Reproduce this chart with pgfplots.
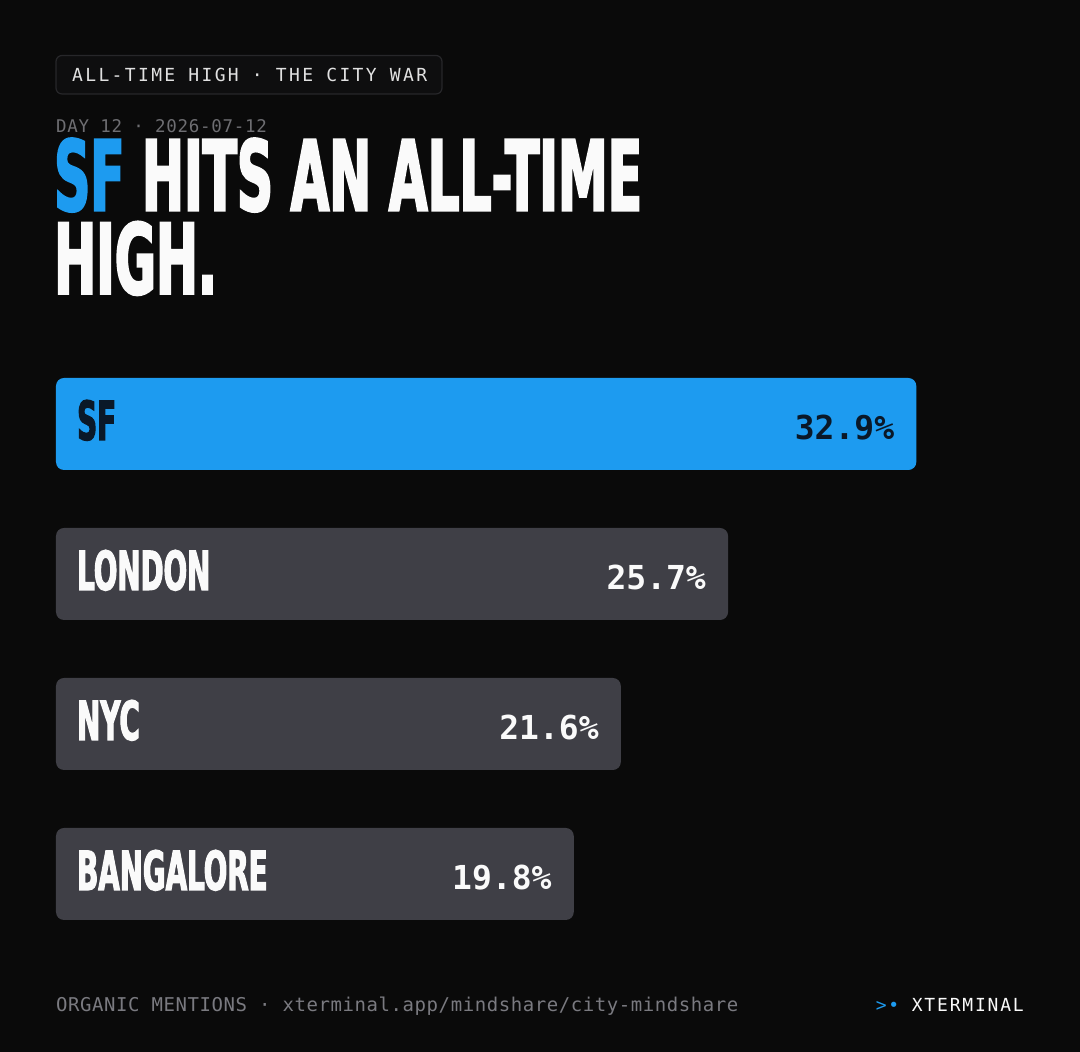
\documentclass[border=0pt]{standalone}
\usepackage{pgfplots}
\pgfplotsset{compat=1.18}
\usepackage{fontspec}
\setmainfont{DejaVu Sans}
\newfontfamily\monof{DejaVu Sans Mono}
\newfontfamily\hdrf{DejaVu Sans Mono}[LetterSpace=13]
\newfontfamily\dayf{DejaVu Sans Mono}[LetterSpace=4]
\newfontfamily\footf{DejaVu Sans Mono}[LetterSpace=3]
\newfontfamily\brandf{DejaVu Sans Mono}[LetterSpace=10]
\newfontfamily\headf{DejaVu Sans}[FakeStretch=0.513,FakeBold=2]
\definecolor{bg}{HTML}{0A0A0A}
\definecolor{twblue}{HTML}{1D9BF0}
\definecolor{barg}{HTML}{3F3F46}
\definecolor{navy}{HTML}{0A1828}
\definecolor{txtw}{HTML}{FAFAFA}
\definecolor{dimg}{HTML}{6E6E72}
\definecolor{footg}{HTML}{7A7A80}
\definecolor{boxb}{HTML}{27272A}
\definecolor{boxf}{HTML}{0E0E0F}
\begin{document}
\begin{tikzpicture}
\useasboundingbox (0,0) rectangle (1080pt,1052pt);
\fill[bg] (0,0) rectangle (1080pt,1052pt);
% header pill
\draw[boxb, fill=boxf, line width=1.2pt, rounded corners=6pt] (56pt,958pt) rectangle (442pt,996.5pt);
\node[anchor=base west, inner sep=0pt, text=txtw!90!black, font=\hdrf\fontsize{18pt}{20pt}\selectfont] at (72pt,970pt) {ALL-TIME HIGH · THE CITY WAR};
\node[anchor=base west, inner sep=0pt, text=dimg, font=\dayf\fontsize{17.5pt}{20pt}\selectfont] at (56pt,919.7pt) {DAY 12 · 2026-07-12};
% title (anchor = baseline of the last line)
\node[anchor=base west, inner sep=0pt, align=left, text=txtw, font=\headf\bfseries\fontsize{97.8pt}{83.3pt}\selectfont] at (54pt,758pt) {\textcolor{twblue}{SF} HITS AN ALL-TIME\\HIGH.};
% chart
\begin{axis}[at={(56pt,103pt)}, anchor=south west,
  x=26.15pt, y=150pt, xmin=0, xmax=38, ymin=-0.5, ymax=3.5,
  hide axis, clip=false, xbar, bar width=92pt, bar shift=0pt,
  point meta=explicit symbolic, nodes near coords,
  every node near coord/.append style={anchor=base east, inner sep=0pt, xshift=-22pt, yshift=-16pt,
    font=\monof\bfseries\fontsize{33pt}{36pt}\selectfont}]
\addplot[fill=twblue, draw=none, rounded corners=8pt,
  every node near coord/.append style={text=navy}] coordinates {(32.9,3) [32.9\%]};
\addplot[fill=barg, draw=none, rounded corners=8pt,
  every node near coord/.append style={text=txtw}] coordinates {(25.7,2) [25.7\%] (21.6,1) [21.6\%] (19.8,0) [19.8\%]};
\node[anchor=base west, inner sep=0pt, text=navy, font=\headf\bfseries\fontsize{54pt}{56pt}\selectfont, xshift=21pt, yshift=-16pt] at (axis cs:0,3) {SF};
\node[anchor=base west, inner sep=0pt, text=txtw, font=\headf\bfseries\fontsize{54pt}{56pt}\selectfont, xshift=21pt, yshift=-16pt] at (axis cs:0,2) {LONDON};
\node[anchor=base west, inner sep=0pt, text=txtw, font=\headf\bfseries\fontsize{54pt}{56pt}\selectfont, xshift=21pt, yshift=-16pt] at (axis cs:0,1) {NYC};
\node[anchor=base west, inner sep=0pt, text=txtw, font=\headf\bfseries\fontsize{54pt}{56pt}\selectfont, xshift=21pt, yshift=-16pt] at (axis cs:0,0) {BANGALORE};
\end{axis}
% footer
\node[anchor=base west, inner sep=0pt, text=footg, font=\footf\fontsize{19pt}{21pt}\selectfont] at (56pt,40pt) {ORGANIC MENTIONS · xterminal.app/mindshare/city-mindshare};
\node[anchor=base east, inner sep=0pt, text=txtw, font=\brandf\fontsize{18pt}{20pt}\selectfont] at (1024pt,40pt) {\textcolor{twblue}{>•} XTERMINAL};
\end{tikzpicture}
\end{document}
